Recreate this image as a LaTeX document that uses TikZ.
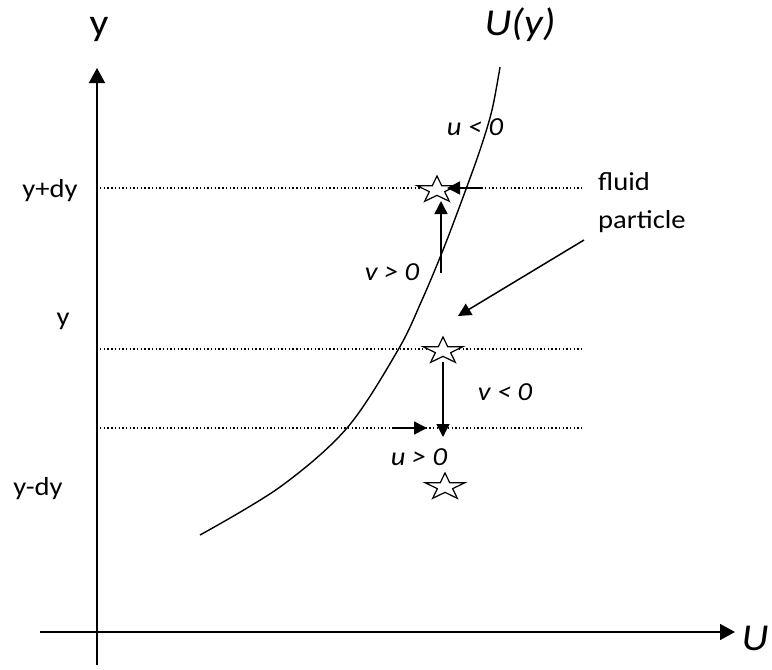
\documentclass[tikz,border=0pt]{standalone}
\usepackage{fontspec}
\setmainfont{Carlito}[FakeStretch=1.1]
\usetikzlibrary{arrows.meta}
\newcommand\drawpstar[1]{\draw[starline,shift={(#1)},xscale=1.5] (-90:14) -- (-54:5.35) -- (-18:14) -- (18:5.35) -- (54:14) -- (90:5.35) -- (126:14) -- (162:5.35) -- (198:14) -- (234:5.35) -- cycle;}
\begin{document}
\begin{tikzpicture}[x=1pt,y=-1pt,
  axis/.style={line width=1.6pt, -{Triangle[length=15pt,width=16pt]}},
  vel/.style={line width=1.5pt, -{Triangle[length=13pt,width=13pt]}},
  guide/.style={line width=1.3pt, dash pattern=on 1.4pt off 2.3pt},
  curveline/.style={line width=1.4pt},
  starline/.style={line width=1.2pt, fill=white},
  small/.style={font=\fontsize{26}{31}\selectfont, anchor=base, inner sep=0pt},
  smallit/.style={font=\fontsize{26}{31}\selectfont\itshape, anchor=base, inner sep=0pt},
  bigtxt/.style={font=\fontsize{38}{45}\selectfont, anchor=base, inner sep=0pt},
  bigit/.style={font=\fontsize{38}{45}\selectfont\itshape, anchor=base, inner sep=0pt}]
\useasboundingbox (0,0) rectangle (772,670);
% axes
\coordinate (yb) at (97,665); \coordinate (yt) at (97,68);
\coordinate (xl) at (40,632); \coordinate (xr) at (735,632);
\draw[axis] (yb) -- (yt);
\draw[axis] (xl) -- (xr);
% guide lines
\coordinate (g1l) at (100,188); \coordinate (g1r) at (582,188);
\coordinate (g2l) at (100,349); \coordinate (g2r) at (582,349);
\coordinate (g3l) at (100,428); \coordinate (g3r) at (582,428);
\draw[guide] (g1l) -- (g1r);
\draw[guide] (g2l) -- (g2r);
\draw[guide] (g3l) -- (g3r);
% profile U(y)
\draw[curveline] plot[smooth, tension=0.55] coordinates {(200,535) (280,487) (347,428) (398,350) (422,300) (443,250) (462,200) (480,150) (492,110) (500,67)};
% particles
\coordinate (s1) at (437,190);
\coordinate (s2) at (443,351);
\coordinate (s3) at (445,487);
\drawpstar{s1}
\drawpstar{s2}
\drawpstar{s3}
% velocity arrows
\coordinate (a1s) at (441,273); \coordinate (a1e) at (441,201);
\coordinate (a2s) at (483,188); \coordinate (a2e) at (447,188);
\coordinate (a3s) at (443,362); \coordinate (a3e) at (443,437);
\coordinate (a4s) at (392,428); \coordinate (a4e) at (427,428);
\coordinate (a5s) at (584,240); \coordinate (a5e) at (458,316);
\draw[vel] (a1s) -- (a1e);
\draw[vel] (a2s) -- (a2e);
\draw[vel] (a3s) -- (a3e);
\draw[vel] (a4s) -- (a4e);
\draw[vel] (a5s) -- (a5e);
% labels
\node[bigtxt] (ylab) at (99,35) {y};
\node[bigit] (Uylab) at (520,35) {U(y)};
\node[bigit] (Ulab) at (755,650) {U};
\node[small] (lyp) at (50,197) {y+dy};
\node[small] (ly) at (63,325) {y};
\node[small] (lym) at (38,495) {y-dy};
\node[smallit] (lu1) at (475,135) {u < 0};
\node[smallit] (lv1) at (392,280) {v > 0};
\node[smallit] (lv2) at (505,400) {v < 0};
\node[smallit] (lu2) at (419,465) {u > 0};
\node[small, anchor=base west] (lf1) at (598,190) {fluid};
\node[small, anchor=base west] (lf2) at (598,228) {particle};
\end{tikzpicture}
\end{document}
